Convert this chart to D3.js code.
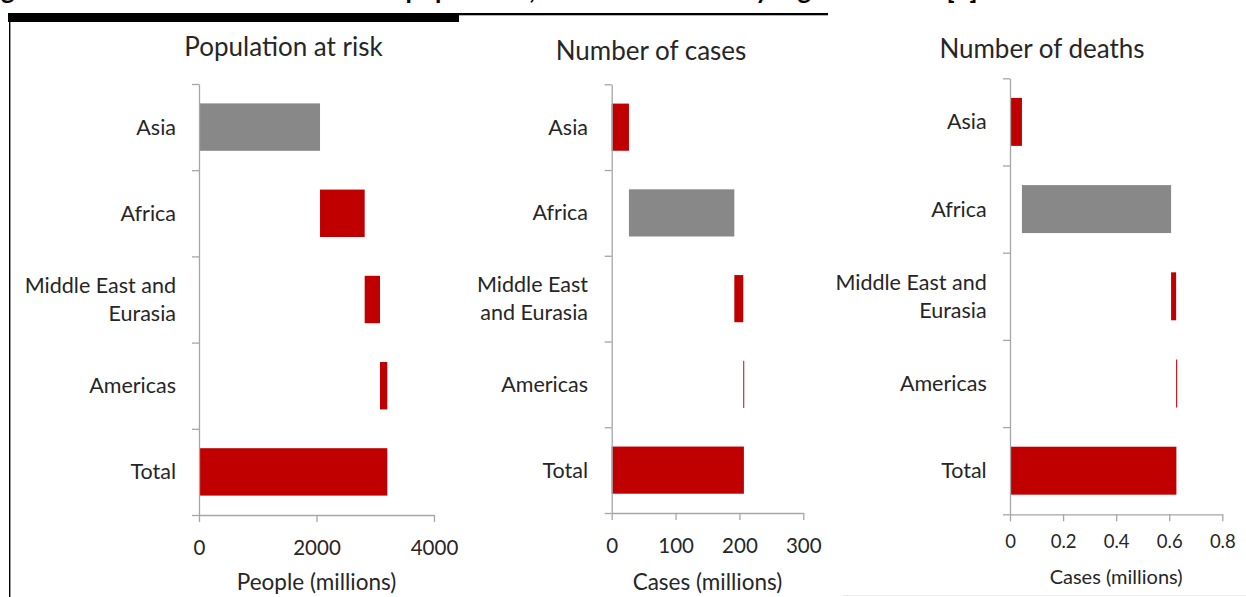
<!DOCTYPE html>
<html>
<head>
<meta charset="utf-8">
<script src="https://cdn.jsdelivr.net/npm/d3@7"></script>
<style>
  body { margin: 0; background: #fff; }
  svg { display: block; }
  text { font-family: Lato, "Open Sans", sans-serif; fill: #262626; }
</style>
</head>
<body>
<svg id="chart" width="1246" height="597"></svg>
<script>
// Regions in display order; "Total" is drawn from zero, the rest stack as a waterfall.
const regions = ["Asia", "Africa", "Middle East and Eurasia", "Americas", "Total"];

// Values per region (millions)
const populationAtRisk = [2060, 760, 261, 124, 3205];
const malariaCases = [27, 165, 14, 1.5, 207];
const malariaDeaths = [0.045, 0.562, 0.019, 0.004, 0.627];

// Axis ticks
const populationTicks = [0, 2000, 4000];
const casesTicks = [0, 100, 200, 300];
const deathsTicks = [0, 0.2, 0.4, 0.6, 0.8];

// Texts
const figureTitle = "Figure 1: Estimated malaria burden \u2013 population, cases and deaths by region in 2013 [1]";
const panelTitles = ["Population at risk", "Number of cases", "Number of deaths"];
const axisTitles = ["People (millions)", "Cases (millions)", "Cases (millions)"];
const highlightedRegion = ["Asia", "Africa", "Africa"];

const RED = "#c00000";
const GREY = "#888888";
const AXIS = "#a6a6a6";

const svg = d3.select("#chart");

// Figure heading (runs above the top edge) and its rules
const heading = svg.append("text")
  .attr("x", 0).attr("y", -1)
  .style("font-size", "22px").style("font-weight", "bold").style("fill", "#000")
  .text(figureTitle);
{
  const node = heading.node();
  const startX = node.getStartPositionOfChar(2).x;
  const endX = node.getEndPositionOfChar(figureTitle.length - 1).x;
  const k = (978 - 1) / (endX - startX);
  heading.style("font-size", (22 * k) + "px").attr("x", 1 - startX * k);
}
svg.append("rect").attr("x", 8).attr("y", 13).attr("width", 820).attr("height", 2.3).attr("fill", "#000");
svg.append("rect").attr("x", 8).attr("y", 13).attr("width", 451).attr("height", 9).attr("fill", "#000");
svg.append("rect").attr("x", 9).attr("y", 13).attr("width", 1.4).attr("height", 584).attr("fill", "#000");
svg.append("rect").attr("x", 843).attr("y", 595).attr("width", 403).attr("height", 1).attr("fill", "#ececec");

const panels = [
  { values: populationAtRisk, ticks: populationTicks, domain: [0, 4000],
    x0: 199, x1: 434, y0: 84, y1: 515, labelX: 176, wrap: 175,
    titleX: 283.5, titleY: 47, titleSize: 26, labelSize: 21.5,
    tickSize: 20.5, tickPad: 18, axisTitleY: 582, axisTitleSize: 22.5 },
  { values: malariaCases, ticks: casesTicks, domain: [0, 300],
    x0: 611.7, x1: 803.3, y0: 84.3, y1: 513, labelX: 588, wrap: 135,
    titleX: 651, titleY: 51, titleSize: 26, labelSize: 21.5,
    tickSize: 20.5, tickPad: 18, axisTitleY: 582, axisTitleSize: 22.5 },
  { values: malariaDeaths, ticks: deathsTicks, domain: [0, 0.8],
    x0: 1010, x1: 1222.3, y0: 78.3, y1: 514.3, labelX: 986.7, wrap: 175,
    titleX: 1042, titleY: 49, titleSize: 26, labelSize: 21.5,
    tickSize: 18.5, tickPad: 14, axisTitleY: 577, axisTitleSize: 20 }
];

panels.forEach((p, i) => {
  const g = svg.append("g");

  const x = d3.scaleLinear().domain(p.domain).range([p.x0, p.x1]);
  const y = d3.scaleBand().domain(regions).range([p.y0, p.y1])
    .paddingInner(0.45).paddingOuter(0.225);
  const yEdges = d3.scaleLinear().domain([0, regions.length]).range([p.y0, p.y1]);

  // Waterfall segments
  let running = 0;
  const segments = regions.map((r, k) => {
    const v = p.values[k];
    if (r === "Total") return { region: r, start: 0, end: v };
    const s = { region: r, start: running, end: running + v };
    running += v;
    return s;
  });

  g.selectAll("rect.bar").data(segments).join("rect")
    .attr("class", "bar")
    .attr("x", d => x(d.start))
    .attr("width", d => Math.max(0, x(d.end) - x(d.start)))
    .attr("y", d => y(d.region))
    .attr("height", y.bandwidth())
    .attr("fill", d => d.region === highlightedRegion[i] ? GREY : RED);

  // Category axis with ticks at band edges
  const yAxis = g.append("g")
    .attr("transform", `translate(${p.x0},0)`)
    .call(d3.axisLeft(yEdges).tickValues(d3.range(regions.length + 1))
      .tickFormat("").tickSize(7).tickSizeOuter(0));
  yAxis.select(".domain").attr("stroke", AXIS).attr("stroke-width", 1.3);
  yAxis.selectAll(".tick line").attr("stroke", AXIS).attr("stroke-width", 1.3);

  // Value axis
  const xAxis = g.append("g")
    .attr("transform", `translate(0,${p.y1})`)
    .call(d3.axisBottom(x).tickValues(p.ticks).tickFormat(d => String(d))
      .tickSize(7).tickSizeOuter(0).tickPadding(p.tickPad));
  xAxis.select(".domain").attr("stroke", AXIS).attr("stroke-width", 1.3);
  xAxis.selectAll(".tick line").attr("stroke", AXIS).attr("stroke-width", 1.3);
  xAxis.selectAll(".tick text")
    .attr("fill", "#262626")
    .style("font-family", "Lato, 'Open Sans', sans-serif")
    .style("font-size", p.tickSize + "px");

  // Category labels, wrapped to the label column width
  const lineH = 28;
  regions.forEach(r => {
    const t = g.append("text")
      .attr("text-anchor", "end")
      .style("font-size", p.labelSize + "px");
    const words = r.split(" ");
    const lines = [];
    let cur = [];
    const probe = t.append("tspan");
    words.forEach(w => {
      const test = cur.concat(w).join(" ");
      probe.text(test);
      if (cur.length && probe.node().getComputedTextLength() > p.wrap) {
        lines.push(cur.join(" "));
        cur = [w];
      } else {
        cur.push(w);
      }
    });
    lines.push(cur.join(" "));
    probe.remove();
    const cy = y(r) + y.bandwidth() / 2;
    lines.forEach((ln, k) => {
      t.append("tspan")
        .attr("x", p.labelX)
        .attr("y", cy + (k - (lines.length - 1) / 2) * lineH)
        .attr("dy", "0.35em")
        .text(ln);
    });
  });

  // Panel title
  g.append("text")
    .attr("x", p.titleX).attr("y", p.titleY).attr("dy", "0.35em")
    .attr("text-anchor", "middle")
    .style("font-size", p.titleSize + "px")
    .text(panelTitles[i]);

  // Axis title
  g.append("text")
    .attr("x", (p.x0 + p.x1) / 2).attr("y", p.axisTitleY).attr("dy", "0.35em")
    .attr("text-anchor", "middle")
    .style("font-size", p.axisTitleSize + "px")
    .text(axisTitles[i]);
});
</script>
</body>
</html>
